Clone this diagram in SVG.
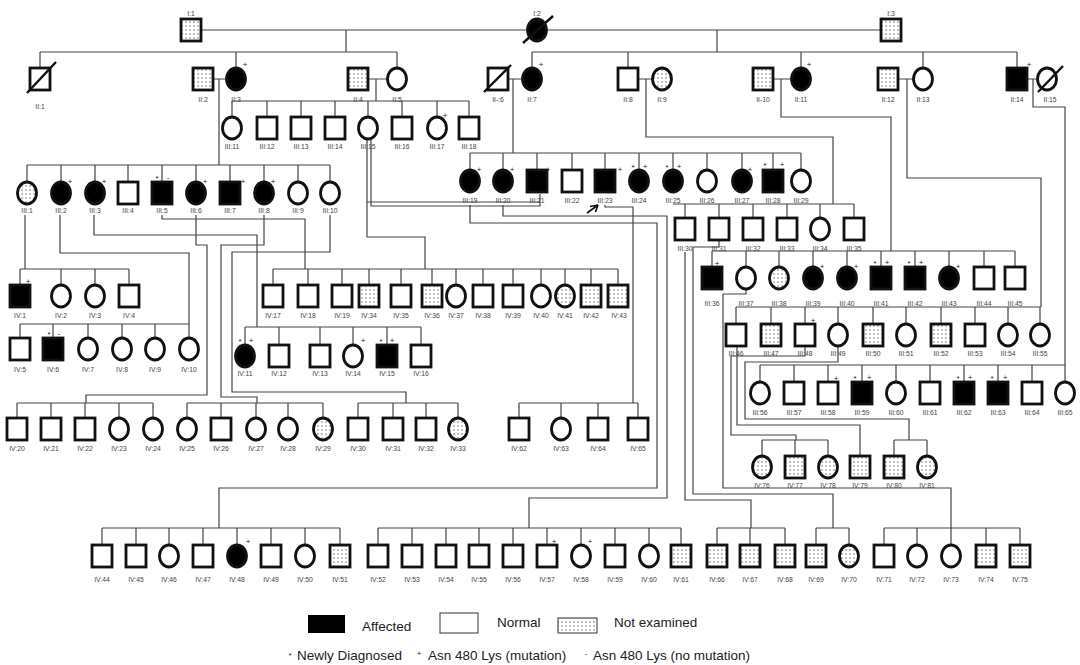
<svg xmlns="http://www.w3.org/2000/svg" width="1080" height="665" viewBox="0 0 1080 665">
<defs>
<pattern id="dots" width="4" height="4" patternUnits="userSpaceOnUse"><rect width="4" height="4" fill="#fff"/><circle cx="2" cy="2" r="0.75" fill="#666"/></pattern>
<style>
.s{stroke:#111;stroke-width:2.8;fill:#fff}
.a{fill:#000}
.n{fill:url(#dots)}
.d{stroke:#111;stroke-width:2.4}
.l{font-family:"Liberation Sans",Arial,sans-serif;font-size:6.8px;fill:#444;text-anchor:middle}
.k{font-family:"Liberation Sans",Arial,sans-serif;font-size:8px;fill:#222;text-anchor:middle}
.c{fill:none;stroke:#444;stroke-width:1.2}
.g{font-family:"Liberation Sans",Arial,sans-serif;font-size:13.5px;fill:#222}
</style>
</defs>
<rect width="1080" height="665" fill="#fff"/>
<g id="connectors" class="c">
<path d="M201 30H527 M547 30H881 M346 30V52 M40 52H397 M40 52V68 M236 52V68 M397 52V68 M717 30V52 M532 52H1017 M532 52V68 M628 52V68 M801 52V68 M923 52V68 M1017 52V68"/>
<path d="M213 79H227 M219 79V165 M27 165H330 M27 165V182 M61 165V182 M95 165V182 M128 165V182 M162 165V182 M196 165V182 M230 165V182 M264 165V182 M298 165V182 M330 165V182"/>
<path d="M368 79H387 M376 79V101 M232 101H469 M232 101V117 M267 101V117 M301 101V117 M335 101V117 M368 101V117 M402 101V117 M437 101V117 M469 101V117"/>
<path d="M508 79H523 M513 79V153 M470 153H801 M470 153V170 M503 153V170 M537 153V170 M572 153V170 M605 153V170 M639 153V170 M673 153V170 M707 153V170 M742 153V170 M773 153V170 M801 153V170"/>
<path d="M638 79H652 M646 79V137H833V204 M673 204H854 M685 204V218 M719 204V218 M753 204V218 M787 204V218 M820 204V218 M854 204V218"/>
<path d="M773 79H791 M781 79V117H891V251 M712 251H1015 M712 251V267 M746 251V267 M779 251V267 M813 251V267 M847 251V267 M881 251V267 M915 251V267 M949 251V267 M984 251V267 M1015 251V267"/>
<path d="M899 79H913 M907 79V178H1041V307 M736 307H1041 M736 307V324 M771 307V324 M805 307V324 M838 307V324 M873 307V324 M906 307V324 M941 307V324 M975 307V324 M1008 307V324 M1040 307V324"/>
<path d="M1027 79H1038 M1033 79V107H1065V382 M760 365H1065 M760 365V382 M794 365V382 M828 365V382 M862 365V382 M896 365V382 M930 365V382 M964 365V382 M998 365V382 M1032 365V382"/>
<path d="M25 215V269 M20 269H129 M20 269V285 M61 269V285 M95 269V285 M129 269V285"/>
<path d="M60 215V253H189V324 M20 324H189 M20 324V338 M53 324V338 M88 324V338 M122 324V338 M155 324V338 M189 324V338"/>
<path d="M94 215V235H257V327 M245 327H421 M245 327V345 M279 327V345 M320 327V345 M353 327V345 M387 327V345 M421 327V345"/>
<path d="M162 215V219H305V269 M273 269H618 M273 269V285 M308 269V285 M342 269V285 M369 269V285 M401 269V285 M432 269V285 M456 269V285 M483 269V285 M513 269V285 M541 269V285 M565 269V285 M591 269V285 M618 269V285"/>
<path d="M367 139V237H425V269 M371 139V206H540V194 M367 202H540"/>
<path d="M196 215V245H207V395H86V403 M17 403H153 M17 403V418 M51 403V418 M85 403V418 M119 403V418 M153 403V418"/>
<path d="M264 215V245H221V397H257V403 M187 403H323 M187 403V418 M221 403V418 M256 403V418 M288 403V418 M323 403V418"/>
<path d="M330 215V252H232V392H406V403 M358 403H458 M358 403V418 M393 403V418 M426 403V418 M458 403V418"/>
<path d="M470 205V223H657V488H219V528 M102 528H340 M102 528V545 M136 528V545 M169 528V545 M203 528V545 M237 528V545 M271 528V545 M305 528V545 M340 528V545"/>
<path d="M503 205V216H667V498H529V528 M378 528H681 M378 528V545 M412 528V545 M446 528V545 M479 528V545 M513 528V545 M547 528V545 M581 528V545 M615 528V545 M649 528V545 M681 528V545"/>
<path d="M605 205V207H633V403 M519 403H638 M519 403V418 M561 403V418 M598 403V418 M638 403V418"/>
<path d="M685 252V500H751V528 M717 528H785 M717 528V545 M750 528V545 M785 528V545"/>
<path d="M719 241V247H693V494H833V528 M816 528H849 M816 528V545 M849 528V545"/>
<path d="M746 289V294H723V488H951V528 M884 528H1020 M884 528V545 M917 528V545 M951 528V545 M986 528V545 M1020 528V545"/>
<path d="M805 347V356H731V435H796V440 M762 440H828 M762 440V456 M795 440V456 M828 440V456"/>
<path d="M737 347V425H860V456"/>
<path d="M838 347V362H745V419H909V440 M894 440H927 M894 440V456 M927 440V456"/>
<path d="M587 213L598 205 M598 205L590 206.5 M598 205L595.5 212" stroke="#111" stroke-width="1.6"/>
</g>
<g id="gen1">
<g id="I-1"><rect class="s n" x="181" y="19" width="20" height="22"/><text class="l" x="191" y="16">I:1</text></g>
<g id="I-2"><ellipse class="s a" cx="537" cy="30" rx="9.5" ry="11"/><line class="d" x1="523" y1="43" x2="553" y2="16"/><text class="l" x="537" y="16">I:2</text></g>
<g id="I-3"><rect class="s n" x="881" y="19" width="20" height="22"/><text class="l" x="891" y="16">I:3</text></g>
</g>
<g id="gen2">
<g id="II-1"><rect class="s" x="30" y="68" width="20" height="22"/><line class="d" x1="27" y1="93" x2="56" y2="62"/><text class="l" x="40" y="109">II:1</text></g>
<g id="II-2"><rect class="s n" x="193" y="68" width="20" height="22"/><text class="l" x="203" y="102">II:2</text></g>
<g id="II-3"><ellipse class="s a" cx="236" cy="79" rx="9.5" ry="11"/><text class="k" x="245" y="67">+</text><text class="l" x="236" y="102">II:3</text></g>
<g id="II-4"><rect class="s n" x="348" y="68" width="20" height="22"/><text class="l" x="358" y="102">II:4</text></g>
<g id="II-5"><ellipse class="s" cx="397" cy="79" rx="9.5" ry="11"/><text class="l" x="397" y="102">II:5</text></g>
<g id="II-6"><rect class="s" x="488" y="68" width="20" height="22"/><line class="d" x1="484" y1="92" x2="511" y2="65"/><text class="l" x="498" y="102">II-:6</text></g>
<g id="II-7"><ellipse class="s a" cx="532" cy="79" rx="9.5" ry="11"/><text class="k" x="541" y="67">+</text><text class="l" x="532" y="102">II:7</text></g>
<g id="II-8"><rect class="s" x="618" y="68" width="20" height="22"/><text class="l" x="628" y="102">II:8</text></g>
<g id="II-9"><ellipse class="s n" cx="662" cy="79" rx="9.5" ry="11"/><text class="l" x="662" y="102">II:9</text></g>
<g id="II-10"><rect class="s n" x="753" y="68" width="20" height="22"/><text class="l" x="763" y="102">II-10</text></g>
<g id="II-11"><ellipse class="s a" cx="801" cy="79" rx="9.5" ry="11"/><text class="k" x="809" y="67">+</text><text class="l" x="801" y="102">II:11</text></g>
<g id="II-12"><rect class="s n" x="878" y="68" width="20" height="22"/><text class="l" x="888" y="102">II:12</text></g>
<g id="II-13"><ellipse class="s" cx="923" cy="79" rx="9.5" ry="11"/><text class="l" x="923" y="102">II:13</text></g>
<g id="II-14"><rect class="s a" x="1007" y="68" width="20" height="22"/><text class="k" x="1029" y="67">+</text><text class="l" x="1017" y="102">II:14</text></g>
<g id="II-15"><ellipse class="s" cx="1047" cy="79" rx="9.5" ry="11"/><line class="d" x1="1038" y1="92" x2="1063" y2="66"/><text class="l" x="1050" y="102">II:15</text></g>
</g>
<g id="gen3">
<g id="III-1"><ellipse class="s n" cx="27" cy="193" rx="9.5" ry="11"/><text class="l" x="27" y="213">III:1</text></g>
<g id="III-2"><ellipse class="s a" cx="61" cy="193" rx="9.5" ry="11"/><text class="k" x="70" y="184">+</text><text class="l" x="61" y="213">III:2</text></g>
<g id="III-3"><ellipse class="s a" cx="95" cy="193" rx="9.5" ry="11"/><text class="k" x="104" y="184">+</text><text class="l" x="95" y="213">III:3</text></g>
<g id="III-4"><rect class="s" x="118" y="182" width="20" height="22"/><text class="l" x="128" y="213">III:4</text></g>
<g id="III-5"><rect class="s a" x="152" y="182" width="20" height="22"/><text class="k" x="157" y="181">*</text><text class="k" x="168" y="180">-</text><text class="l" x="162" y="213">III:5</text></g>
<g id="III-6"><ellipse class="s a" cx="196" cy="193" rx="9.5" ry="11"/><text class="k" x="205" y="184">+</text><text class="l" x="196" y="213">III:6</text></g>
<g id="III-7"><rect class="s a" x="220" y="182" width="20" height="22"/><text class="k" x="243" y="184">+</text><text class="l" x="230" y="213">III:7</text></g>
<g id="III-8"><ellipse class="s a" cx="264" cy="193" rx="9.5" ry="11"/><text class="k" x="273" y="184">+</text><text class="l" x="264" y="213">III:8</text></g>
<g id="III-9"><ellipse class="s" cx="298" cy="193" rx="9.5" ry="11"/><text class="l" x="298" y="213">III:9</text></g>
<g id="III-10"><ellipse class="s" cx="330" cy="193" rx="9.5" ry="11"/><text class="l" x="330" y="213">III:10</text></g>
<g id="III-11"><ellipse class="s" cx="232" cy="128" rx="9.5" ry="11"/><text class="l" x="232" y="149">III:11</text></g>
<g id="III-12"><rect class="s" x="257" y="117" width="20" height="22"/><text class="l" x="267" y="149">III:12</text></g>
<g id="III-13"><rect class="s" x="291" y="117" width="20" height="22"/><text class="l" x="301" y="149">III:13</text></g>
<g id="III-14"><rect class="s" x="325" y="117" width="20" height="22"/><text class="l" x="335" y="149">III:14</text></g>
<g id="III-15"><ellipse class="s" cx="368" cy="128" rx="9.5" ry="11"/><text class="l" x="368" y="149">III:15</text></g>
<g id="III-16"><rect class="s" x="392" y="117" width="20" height="22"/><text class="l" x="402" y="149">III:16</text></g>
<g id="III-17"><ellipse class="s" cx="437" cy="128" rx="9.5" ry="11"/><text class="k" x="445" y="118">+</text><text class="l" x="437" y="149">III:17</text></g>
<g id="III-18"><rect class="s" x="459" y="117" width="20" height="22"/><text class="l" x="469" y="149">III:18</text></g>
<g id="III-19"><ellipse class="s a" cx="470" cy="181" rx="9.5" ry="11"/><text class="k" x="479" y="172">+</text><text class="l" x="470" y="203">III:19</text></g>
<g id="III-20"><ellipse class="s a" cx="503" cy="181" rx="9.5" ry="11"/><text class="k" x="512" y="172">+</text><text class="l" x="503" y="203">III:20</text></g>
<g id="III-21"><rect class="s a" x="527" y="170" width="20" height="22"/><text class="k" x="548" y="172">+</text><text class="l" x="537" y="203">III:21</text></g>
<g id="III-22"><rect class="s" x="562" y="170" width="20" height="22"/><text class="l" x="572" y="203">III:22</text></g>
<g id="III-23"><rect class="s a" x="595" y="170" width="20" height="22"/><text class="k" x="620" y="172">+</text><text class="l" x="605" y="203">III:23</text></g>
<g id="III-24"><ellipse class="s a" cx="639" cy="181" rx="9.5" ry="11"/><text class="k" x="633" y="170">*</text><text class="k" x="645" y="169">+</text><text class="l" x="639" y="203">III:24</text></g>
<g id="III-25"><ellipse class="s a" cx="673" cy="181" rx="9.5" ry="11"/><text class="k" x="667" y="170">*</text><text class="k" x="679" y="169">+</text><text class="l" x="673" y="203">III:25</text></g>
<g id="III-26"><ellipse class="s" cx="707" cy="181" rx="9.5" ry="11"/><text class="l" x="707" y="203">III:26</text></g>
<g id="III-27"><ellipse class="s a" cx="742" cy="181" rx="9.5" ry="11"/><text class="k" x="750" y="172">+</text><text class="l" x="742" y="203">III:27</text></g>
<g id="III-28"><rect class="s a" x="763" y="170" width="20" height="22"/><text class="k" x="765" y="168">*</text><text class="k" x="782" y="167">+</text><text class="l" x="773" y="203">III:28</text></g>
<g id="III-29"><ellipse class="s" cx="801" cy="181" rx="9.5" ry="11"/><text class="l" x="801" y="203">III:29</text></g>
<g id="III-30"><rect class="s" x="675" y="218" width="20" height="22"/><text class="l" x="685" y="251">III:30</text></g>
<g id="III-31"><rect class="s" x="709" y="218" width="20" height="22"/><text class="l" x="719" y="251">III:31</text></g>
<g id="III-32"><rect class="s" x="743" y="218" width="20" height="22"/><text class="l" x="753" y="251">III:32</text></g>
<g id="III-33"><rect class="s" x="777" y="218" width="20" height="22"/><text class="l" x="787" y="251">III:33</text></g>
<g id="III-34"><ellipse class="s" cx="820" cy="229" rx="9.5" ry="11"/><text class="l" x="820" y="251">III:34</text></g>
<g id="III-35"><rect class="s" x="844" y="218" width="20" height="22"/><text class="l" x="854" y="251">III:35</text></g>
<g id="III-36"><rect class="s a" x="702" y="267" width="20" height="22"/><text class="k" x="717" y="266">+</text><text class="l" x="712" y="306">III:36</text></g>
<g id="III-37"><ellipse class="s" cx="746" cy="278" rx="9.5" ry="11"/><text class="l" x="746" y="306">III:37</text></g>
<g id="III-38"><ellipse class="s n" cx="779" cy="278" rx="9.5" ry="11"/><text class="l" x="779" y="306">III:38</text></g>
<g id="III-39"><ellipse class="s a" cx="813" cy="278" rx="9.5" ry="11"/><text class="k" x="822" y="269">+</text><text class="l" x="813" y="306">III:39</text></g>
<g id="III-40"><ellipse class="s a" cx="847" cy="278" rx="9.5" ry="11"/><text class="k" x="856" y="269">+</text><text class="l" x="847" y="306">III:40</text></g>
<g id="III-41"><rect class="s a" x="871" y="267" width="20" height="22"/><text class="k" x="875" y="266">*</text><text class="k" x="887" y="265">+</text><text class="l" x="881" y="306">III:41</text></g>
<g id="III-42"><rect class="s a" x="905" y="267" width="20" height="22"/><text class="k" x="909" y="266">*</text><text class="k" x="921" y="265">+</text><text class="l" x="915" y="306">III:42</text></g>
<g id="III-43"><ellipse class="s a" cx="949" cy="278" rx="9.5" ry="11"/><text class="k" x="958" y="269">+</text><text class="l" x="949" y="306">III:43</text></g>
<g id="III-44"><rect class="s" x="974" y="267" width="20" height="22"/><text class="l" x="984" y="306">III:44</text></g>
<g id="III-45"><rect class="s" x="1005" y="267" width="20" height="22"/><text class="l" x="1015" y="306">III:45</text></g>
<g id="III-46"><rect class="s" x="726" y="324" width="20" height="22"/><text class="l" x="736" y="356">III:46</text></g>
<g id="III-47"><rect class="s n" x="761" y="324" width="20" height="22"/><text class="l" x="771" y="356">III:47</text></g>
<g id="III-48"><rect class="s" x="795" y="324" width="20" height="22"/><text class="k" x="813" y="323">+</text><text class="l" x="805" y="356">III:48</text></g>
<g id="III-49"><ellipse class="s" cx="838" cy="335" rx="9.5" ry="11"/><text class="l" x="838" y="356">III:49</text></g>
<g id="III-50"><rect class="s n" x="863" y="324" width="20" height="22"/><text class="l" x="873" y="356">III:50</text></g>
<g id="III-51"><ellipse class="s" cx="906" cy="335" rx="9.5" ry="11"/><text class="l" x="906" y="356">III:51</text></g>
<g id="III-52"><rect class="s n" x="931" y="324" width="20" height="22"/><text class="l" x="941" y="356">III:52</text></g>
<g id="III-53"><rect class="s" x="965" y="324" width="20" height="22"/><text class="l" x="975" y="356">III:53</text></g>
<g id="III-54"><ellipse class="s" cx="1008" cy="335" rx="9.5" ry="11"/><text class="l" x="1008" y="356">III:54</text></g>
<g id="III-55"><ellipse class="s" cx="1040" cy="335" rx="9.5" ry="11"/><text class="l" x="1040" y="356">III:55</text></g>
<g id="III-56"><ellipse class="s" cx="760" cy="393" rx="9.5" ry="11"/><text class="l" x="760" y="415">III:56</text></g>
<g id="III-57"><rect class="s" x="784" y="382" width="20" height="22"/><text class="l" x="794" y="415">III:57</text></g>
<g id="III-58"><rect class="s" x="818" y="382" width="20" height="22"/><text class="k" x="836" y="381">+</text><text class="l" x="828" y="415">III:58</text></g>
<g id="III-59"><rect class="s a" x="852" y="382" width="20" height="22"/><text class="k" x="855" y="381">*</text><text class="k" x="869" y="380">+</text><text class="l" x="862" y="415">III:59</text></g>
<g id="III-60"><ellipse class="s" cx="896" cy="393" rx="9.5" ry="11"/><text class="l" x="896" y="415">III:60</text></g>
<g id="III-61"><rect class="s" x="920" y="382" width="20" height="22"/><text class="l" x="930" y="415">III:61</text></g>
<g id="III-62"><rect class="s a" x="954" y="382" width="20" height="22"/><text class="k" x="958" y="381">*</text><text class="k" x="970" y="380">+</text><text class="l" x="964" y="415">III:62</text></g>
<g id="III-63"><rect class="s a" x="988" y="382" width="20" height="22"/><text class="k" x="992" y="381">*</text><text class="k" x="1005" y="380">+</text><text class="l" x="998" y="415">III:63</text></g>
<g id="III-64"><rect class="s" x="1022" y="382" width="20" height="22"/><text class="l" x="1032" y="415">III:64</text></g>
<g id="III-65"><ellipse class="s" cx="1065" cy="393" rx="9.5" ry="11"/><text class="l" x="1065" y="415">III:65</text></g>
</g>
<g id="gen4">
<g id="IV-1"><rect class="s a" x="10" y="285" width="20" height="22"/><text class="k" x="28" y="284">+</text><text class="l" x="20" y="318">IV:1</text></g>
<g id="IV-2"><ellipse class="s" cx="61" cy="296" rx="9.5" ry="11"/><text class="l" x="61" y="318">IV:2</text></g>
<g id="IV-3"><ellipse class="s" cx="95" cy="296" rx="9.5" ry="11"/><text class="l" x="95" y="318">IV:3</text></g>
<g id="IV-4"><rect class="s" x="119" y="285" width="20" height="22"/><text class="l" x="129" y="318">IV:4</text></g>
<g id="IV-5"><rect class="s" x="10" y="338" width="20" height="22"/><text class="l" x="20" y="372">IV:5</text></g>
<g id="IV-6"><rect class="s a" x="43" y="338" width="20" height="22"/><text class="k" x="49" y="337">*</text><text class="k" x="59" y="336">-</text><text class="l" x="53" y="372">IV:6</text></g>
<g id="IV-7"><ellipse class="s" cx="88" cy="349" rx="9.5" ry="11"/><text class="l" x="88" y="372">IV:7</text></g>
<g id="IV-8"><ellipse class="s" cx="122" cy="349" rx="9.5" ry="11"/><text class="l" x="122" y="372">IV:8</text></g>
<g id="IV-9"><ellipse class="s" cx="155" cy="349" rx="9.5" ry="11"/><text class="l" x="155" y="372">IV:9</text></g>
<g id="IV-10"><ellipse class="s" cx="189" cy="349" rx="9.5" ry="11"/><text class="l" x="189" y="372">IV:10</text></g>
<g id="IV-11"><ellipse class="s a" cx="245" cy="356" rx="9.5" ry="11"/><text class="k" x="240" y="344">*</text><text class="k" x="251" y="343">+</text><text class="l" x="245" y="376">IV:11</text></g>
<g id="IV-12"><rect class="s" x="269" y="345" width="20" height="22"/><text class="l" x="279" y="376">IV:12</text></g>
<g id="IV-13"><rect class="s" x="310" y="345" width="20" height="22"/><text class="l" x="320" y="376">IV:13</text></g>
<g id="IV-14"><ellipse class="s" cx="353" cy="356" rx="9.5" ry="11"/><text class="k" x="363" y="343">+</text><text class="l" x="353" y="376">IV:14</text></g>
<g id="IV-15"><rect class="s a" x="377" y="345" width="20" height="22"/><text class="k" x="381" y="344">*</text><text class="k" x="392" y="343">+</text><text class="l" x="387" y="376">IV:15</text></g>
<g id="IV-16"><rect class="s" x="411" y="345" width="20" height="22"/><text class="l" x="421" y="376">IV:16</text></g>
<g id="IV-17"><rect class="s" x="263" y="285" width="20" height="22"/><text class="l" x="273" y="318">IV:17</text></g>
<g id="IV-18"><rect class="s" x="298" y="285" width="20" height="22"/><text class="l" x="308" y="318">IV:18</text></g>
<g id="IV-19"><rect class="s" x="332" y="285" width="20" height="22"/><text class="l" x="342" y="318">IV:19</text></g>
<g id="IV-34"><rect class="s n" x="359" y="285" width="20" height="22"/><text class="l" x="369" y="318">IV:34</text></g>
<g id="IV-35"><rect class="s" x="391" y="285" width="20" height="22"/><text class="l" x="401" y="318">IV:35</text></g>
<g id="IV-36"><rect class="s n" x="422" y="285" width="20" height="22"/><text class="l" x="432" y="318">IV:36</text></g>
<g id="IV-37"><ellipse class="s" cx="456" cy="296" rx="9.5" ry="11"/><text class="l" x="456" y="318">IV:37</text></g>
<g id="IV-38"><rect class="s" x="473" y="285" width="20" height="22"/><text class="l" x="483" y="318">IV:38</text></g>
<g id="IV-39"><rect class="s" x="503" y="285" width="20" height="22"/><text class="l" x="513" y="318">IV:39</text></g>
<g id="IV-40"><ellipse class="s" cx="541" cy="296" rx="9.5" ry="11"/><text class="l" x="541" y="318">IV:40</text></g>
<g id="IV-41"><ellipse class="s n" cx="565" cy="296" rx="9.5" ry="11"/><text class="l" x="565" y="318">IV:41</text></g>
<g id="IV-42"><rect class="s n" x="581" y="285" width="20" height="22"/><text class="l" x="591" y="318">IV:42</text></g>
<g id="IV-43"><rect class="s n" x="608" y="285" width="20" height="22"/><text class="l" x="619" y="318">IV:43</text></g>
<g id="IV-20"><rect class="s" x="7" y="418" width="20" height="22"/><text class="l" x="17" y="451">IV:20</text></g>
<g id="IV-21"><rect class="s" x="41" y="418" width="20" height="22"/><text class="l" x="51" y="451">IV:21</text></g>
<g id="IV-22"><rect class="s" x="75" y="418" width="20" height="22"/><text class="l" x="85" y="451">IV:22</text></g>
<g id="IV-23"><ellipse class="s" cx="119" cy="429" rx="9.5" ry="11"/><text class="l" x="119" y="451">IV:23</text></g>
<g id="IV-24"><ellipse class="s" cx="153" cy="429" rx="9.5" ry="11"/><text class="l" x="153" y="451">IV:24</text></g>
<g id="IV-25"><ellipse class="s" cx="187" cy="429" rx="9.5" ry="11"/><text class="l" x="187" y="451">IV:25</text></g>
<g id="IV-26"><rect class="s" x="211" y="418" width="20" height="22"/><text class="l" x="221" y="451">IV:26</text></g>
<g id="IV-27"><ellipse class="s" cx="256" cy="429" rx="9.5" ry="11"/><text class="l" x="256" y="451">IV:27</text></g>
<g id="IV-28"><ellipse class="s" cx="288" cy="429" rx="9.5" ry="11"/><text class="l" x="288" y="451">IV:28</text></g>
<g id="IV-29"><ellipse class="s n" cx="323" cy="429" rx="9.5" ry="11"/><text class="l" x="323" y="451">IV:29</text></g>
<g id="IV-30"><rect class="s" x="348" y="418" width="20" height="22"/><text class="l" x="358" y="451">IV:30</text></g>
<g id="IV-31"><rect class="s" x="383" y="418" width="20" height="22"/><text class="l" x="393" y="451">IV:31</text></g>
<g id="IV-32"><rect class="s" x="416" y="418" width="20" height="22"/><text class="l" x="426" y="451">IV:32</text></g>
<g id="IV-33"><ellipse class="s n" cx="458" cy="429" rx="9.5" ry="11"/><text class="l" x="458" y="451">IV:33</text></g>
<g id="IV-62"><rect class="s" x="509" y="418" width="20" height="22"/><text class="l" x="519" y="451">IV:62</text></g>
<g id="IV-63"><ellipse class="s" cx="561" cy="429" rx="9.5" ry="11"/><text class="l" x="561" y="451">IV:63</text></g>
<g id="IV-64"><rect class="s" x="588" y="418" width="20" height="22"/><text class="l" x="598" y="451">IV:64</text></g>
<g id="IV-65"><rect class="s" x="628" y="418" width="20" height="22"/><text class="l" x="638" y="451">IV:65</text></g>
<g id="IV-76"><ellipse class="s n" cx="762" cy="467" rx="9.5" ry="11"/><text class="l" x="762" y="488">IV:76</text></g>
<g id="IV-77"><rect class="s n" x="785" y="456" width="20" height="22"/><text class="l" x="795" y="488">IV:77</text></g>
<g id="IV-78"><ellipse class="s n" cx="828" cy="467" rx="9.5" ry="11"/><text class="l" x="828" y="488">IV:78</text></g>
<g id="IV-79"><rect class="s n" x="850" y="456" width="20" height="22"/><text class="l" x="860" y="488">IV:79</text></g>
<g id="IV-80"><rect class="s n" x="884" y="456" width="20" height="22"/><text class="l" x="894" y="488">IV:80</text></g>
<g id="IV-81"><ellipse class="s n" cx="927" cy="467" rx="9.5" ry="11"/><text class="l" x="927" y="488">IV:81</text></g>
<g id="IV-44"><rect class="s" x="92" y="545" width="20" height="22"/><text class="l" x="102" y="582">IV:44</text></g>
<g id="IV-45"><rect class="s" x="126" y="545" width="20" height="22"/><text class="l" x="136" y="582">IV:45</text></g>
<g id="IV-46"><ellipse class="s" cx="169" cy="556" rx="9.5" ry="11"/><text class="l" x="169" y="582">IV:46</text></g>
<g id="IV-47"><rect class="s" x="193" y="545" width="20" height="22"/><text class="l" x="203" y="582">IV:47</text></g>
<g id="IV-48"><ellipse class="s a" cx="237" cy="556" rx="9.5" ry="11"/><text class="k" x="248" y="544">+</text><text class="l" x="237" y="582">IV:48</text></g>
<g id="IV-49"><rect class="s" x="261" y="545" width="20" height="22"/><text class="l" x="271" y="582">IV:49</text></g>
<g id="IV-50"><ellipse class="s" cx="305" cy="556" rx="9.5" ry="11"/><text class="l" x="305" y="582">IV:50</text></g>
<g id="IV-51"><rect class="s n" x="330" y="545" width="20" height="22"/><text class="l" x="340" y="582">IV:51</text></g>
<g id="IV-52"><rect class="s" x="368" y="545" width="20" height="22"/><text class="l" x="378" y="582">IV:52</text></g>
<g id="IV-53"><rect class="s" x="402" y="545" width="20" height="22"/><text class="l" x="412" y="582">IV:53</text></g>
<g id="IV-54"><rect class="s" x="436" y="545" width="20" height="22"/><text class="l" x="446" y="582">IV:54</text></g>
<g id="IV-55"><rect class="s" x="469" y="545" width="20" height="22"/><text class="l" x="479" y="582">IV:55</text></g>
<g id="IV-56"><rect class="s" x="503" y="545" width="20" height="22"/><text class="l" x="513" y="582">IV:56</text></g>
<g id="IV-57"><rect class="s" x="537" y="545" width="20" height="22"/><text class="k" x="554" y="544">+</text><text class="l" x="547" y="582">IV:57</text></g>
<g id="IV-58"><ellipse class="s" cx="581" cy="556" rx="9.5" ry="11"/><text class="k" x="590" y="544">+</text><text class="l" x="581" y="582">IV:58</text></g>
<g id="IV-59"><rect class="s" x="605" y="545" width="20" height="22"/><text class="l" x="615" y="582">IV:59</text></g>
<g id="IV-60"><ellipse class="s" cx="649" cy="556" rx="9.5" ry="11"/><text class="l" x="649" y="582">IV:60</text></g>
<g id="IV-61"><rect class="s n" x="671" y="545" width="20" height="22"/><text class="l" x="681" y="582">IV:61</text></g>
<g id="IV-66"><rect class="s n" x="707" y="545" width="20" height="22"/><text class="l" x="717" y="582">IV:66</text></g>
<g id="IV-67"><rect class="s n" x="740" y="545" width="20" height="22"/><text class="l" x="750" y="582">IV:67</text></g>
<g id="IV-68"><rect class="s n" x="775" y="545" width="20" height="22"/><text class="l" x="785" y="582">IV:68</text></g>
<g id="IV-69"><rect class="s n" x="806" y="545" width="20" height="22"/><text class="l" x="816" y="582">IV:69</text></g>
<g id="IV-70"><ellipse class="s n" cx="849" cy="556" rx="9.5" ry="11"/><text class="l" x="849" y="582">IV:70</text></g>
<g id="IV-71"><rect class="s" x="874" y="545" width="20" height="22"/><text class="l" x="884" y="582">IV:71</text></g>
<g id="IV-72"><ellipse class="s" cx="917" cy="556" rx="9.5" ry="11"/><text class="l" x="917" y="582">IV:72</text></g>
<g id="IV-73"><ellipse class="s" cx="951" cy="556" rx="9.5" ry="11"/><text class="l" x="951" y="582">IV:73</text></g>
<g id="IV-74"><rect class="s n" x="976" y="545" width="20" height="22"/><text class="l" x="986" y="582">IV:74</text></g>
<g id="IV-75"><rect class="s n" x="1010" y="545" width="20" height="22"/><text class="l" x="1020" y="582">IV:75</text></g>
</g>
<g id="legend">
<rect x="308" y="615" width="37" height="18" fill="#000"/>
<text class="g" x="362" y="631">Affected</text>
<rect x="440" y="613" width="38" height="20" fill="#fff" stroke="#333" stroke-width="1"/>
<text class="g" x="497" y="627">Normal</text>
<rect x="558" y="618" width="39" height="15" fill="url(#dots)" stroke="#333" stroke-width="1"/>
<text class="g" x="614" y="627">Not examined</text>
<text class="k" x="290" y="658">*</text>
<text class="g" x="297" y="660">Newly Diagnosed</text>
<text class="k" x="419" y="656">+</text>
<text class="g" x="428" y="660">Asn 480 Lys (mutation)</text>
<text class="k" x="586" y="656">-</text>
<text class="g" x="593" y="660">Asn 480 Lys (no mutation)</text>
</g>
</svg>
